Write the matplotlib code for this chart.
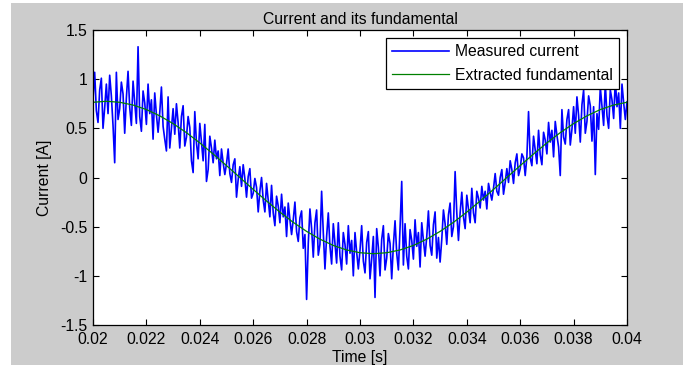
import matplotlib
matplotlib.use("Agg")
import matplotlib.pyplot as plt
from matplotlib.patches import Rectangle
import numpy as np

# measured current (uniform sampling from 0.02 s to 0.04 s)
measured = [
    0.80, 1.07, 0.68, 0.56, 0.89, 1.01, 0.50, 0.71,
    0.95, 0.65, 1.04, 0.83, 0.53, 0.15, 1.07, 0.59,
    0.70, 0.97, 0.85, 0.45, 0.81, 1.08, 0.71, 0.53,
    0.98, 0.76, 0.55, 1.33, 0.62, 0.47, 0.88, 0.76,
    0.54, 0.95, 0.65, 0.79, 0.39, 0.86, 0.64, 0.46,
    0.66, 0.92, 0.52, 0.39, 0.27, 0.82, 0.30, 0.50,
    0.70, 0.44, 0.75, 0.56, 0.30, 0.62, 0.73, 0.32,
    0.41, 0.62, 0.51, 0.17, 0.05, 0.67, 0.35, 0.19,
    0.55, 0.36, 0.17, 0.54, -0.04, 0.08, 0.42, 0.30,
    0.15, 0.38, 0.19, 0.27, 0.02, 0.29, 0.15, 0.03,
    0.14, 0.29, 0.04, -0.05, 0.13, 0.19, -0.20, -0.02,
    0.11, -0.09, 0.13, -0.01, -0.20, 0.01, 0.09, -0.21,
    -0.16, -0.01, -0.10, -0.35, -0.14, 0.00, -0.23, -0.35,
    -0.06, -0.23, -0.40, -0.08, -0.36, -0.49, -0.19, -0.29,
    -0.46, -0.17, -0.40, -0.30, -0.60, -0.26, -0.43, -0.58,
    -0.43, -0.25, -0.55, -0.65, -0.41, -0.34, -0.72, -0.58,
    -1.24, -0.67, -0.32, -0.52, -0.81, -0.46, -0.33, -0.79,
    -0.68, -0.14, -0.56, -0.93, -0.60, -0.36, -0.70, -0.88,
    -0.47, -0.67, -0.87, -0.46, -0.80, -0.94, -0.56, -0.68,
    -0.88, -0.49, -0.77, -0.64, -1.00, -0.56, -0.76, -0.93,
    -0.74, -0.49, -0.85, -0.97, -0.66, -0.55, -1.03, -0.83,
    -0.60, -1.22, -0.52, -0.71, -1.00, -0.63, -0.49, -0.94,
    -0.82, -0.57, -0.67, -1.03, -0.69, -0.44, -0.77, -0.94,
    -0.51, -0.04, -0.89, -0.47, -0.80, -0.93, -0.53, -0.64,
    -0.83, -0.43, -0.70, -0.56, -0.91, -0.46, -0.64, -0.80,
    -0.60, -0.34, -0.69, -0.79, -0.48, -0.35, -0.82, -0.61,
    -0.86, -0.63, -0.33, -0.47, -0.68, -0.38, -0.26, -0.60,
    -0.50, 0.06, -0.36, -0.64, -0.36, -0.15, -0.40, -0.52,
    -0.18, -0.32, -0.46, -0.11, -0.36, -0.46, -0.14, -0.21,
    -0.31, -0.09, -0.23, -0.14, -0.32, -0.06, -0.15, -0.23,
    -0.11, 0.04, -0.14, -0.18, 0.00, 0.08, -0.17, -0.05,
    0.09, -0.05, 0.17, 0.08, -0.06, 0.15, 0.24, 0.02,
    0.09, 0.24, 0.20, 0.02, 0.21, 0.67, 0.20, 0.12,
    0.42, 0.28, 0.14, 0.48, 0.23, 0.13, 0.46, 0.38,
    0.24, 0.56, 0.36, 0.48, 0.21, 0.57, 0.43, 0.31,
    0.02, 0.69, 0.41, 0.34, 0.59, 0.69, 0.33, 0.49,
    0.72, 0.45, 0.82, 0.63, 0.36, 0.74, 0.89, 0.45,
    0.57, 0.83, 0.73, 0.37, 0.72, 0.03, 0.65, 0.49,
    0.92, 0.72, 0.53, 0.96, 0.63, 0.50, 0.89, 0.79,
    0.60, 0.99, 0.72, 0.86, 0.50, 0.95, 0.76, 0.59,
    0.77,
]

# extracted fundamental, every 0.5 ms
fundamental = [
    0.765, 0.775, 0.765, 0.737, 0.691, 0.627, 0.548, 0.456, 0.352, 0.239,
    0.121, 0.0, -0.121, -0.239, -0.352, -0.456, -0.548, -0.627, -0.691, -0.737,
    -0.765, -0.775, -0.765, -0.737, -0.691, -0.627, -0.548, -0.456, -0.352, -0.239,
    -0.121, 0.0, 0.121, 0.239, 0.352, 0.456, 0.548, 0.627, 0.691, 0.737,
    0.765,
]

t_start, t_end = 0.02, 0.04
xticks = [0.02, 0.022, 0.024, 0.026, 0.028, 0.03, 0.032, 0.034, 0.036, 0.038, 0.04]
xticklabels = ["0.02", "0.022", "0.024", "0.026", "0.028", "0.03", "0.032",
               "0.034", "0.036", "0.038", "0.04"]
yticks = [-1.5, -1, -0.5, 0, 0.5, 1, 1.5]
yticklabels = ["-1.5", "-1", "-0.5", "0", "0.5", "1", "1.5"]

plt.rcParams['font.family'] = ['Liberation Sans', 'DejaVu Sans']
fs = 11.3

fig = plt.figure(figsize=(6.89, 3.70), dpi=100)
fig.patch.set_facecolor('white')
fig.patches.append(Rectangle((11 / 689, 5 / 370), 672 / 689, 362 / 370,
                             transform=fig.transFigure, facecolor='#cccccc',
                             edgecolor='none', zorder=-10))

ax = fig.add_axes([93 / 689, 45 / 370, 534 / 689, 295 / 370])
ax.set_facecolor('white')

t_meas = np.linspace(t_start, t_end, len(measured))
t_fund = np.linspace(t_start, t_end, len(fundamental))
ax.plot(t_meas, measured, color='#0000ff', lw=1.2, label='Measured current')
ax.plot(t_fund, fundamental, color='#008000', lw=0.9, label='Extracted fundamental')

ax.set_xlim(t_start, t_end)
ax.set_ylim(-1.5, 1.5)
ax.set_xticks(xticks)
ax.set_xticklabels(xticklabels)
ax.set_yticks(yticks)
ax.set_yticklabels(yticklabels)
ax.tick_params(direction='in', top=True, right=True, length=4, width=0.8,
               labelsize=fs, colors='black')
ax.tick_params(axis='x', pad=5)
ax.tick_params(axis='y', pad=4)
for s in ax.spines.values():
    s.set_linewidth(0.9)

ax.set_title("Current and its fundamental", fontsize=fs, pad=4)
ax.set_xlabel("Time [s]", fontsize=fs, labelpad=2)
ax.set_ylabel("Current [A]", fontsize=fs, labelpad=6)

leg = ax.legend(loc='upper right', fontsize=fs, frameon=True, fancybox=False,
                framealpha=1, edgecolor='black', handlelength=3.6,
                handletextpad=0.4, borderpad=0.4, labelspacing=0.55,
                borderaxespad=0.5)
leg.get_frame().set_linewidth(0.9)

fig.savefig("out.png", dpi=100)
